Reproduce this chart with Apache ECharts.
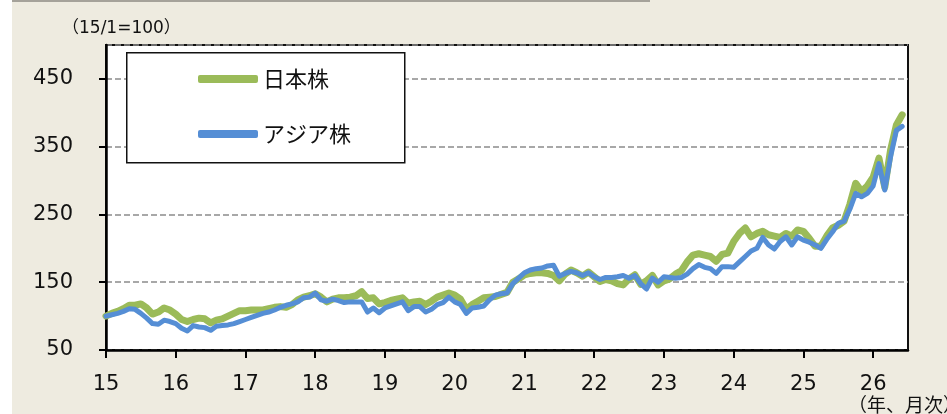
<!DOCTYPE html>
<html lang="ja">
<head>
    <meta charset="UTF-8">
    <title>日本株とアジア株</title>
    <style>
        * {
            margin: 0;
        }

        body {
            background: #fff;
        }

        #main {
            width: 947px;
            height: 414px;
        }
    </style>
    <script src="https://cdn.jsdelivr.net/npm/echarts@6/dist/echarts.min.js"></script>
</head>
<body>
<div id="main"></div>
<script>
    // 月次の並び 15/1 〜 26/7（最後の月は目盛の端だけ）
    var months = [];
    for (var y = 15; y <= 26; y++) {
        for (var m = 1; m <= 12; m++) {
            if (y === 26 && m > 7) break;
            months.push(y + '/' + m);
        }
    }

    // 15/1=100
    var japan = [
        100, 104, 107, 111, 116, 116, 118, 112, 103, 106, 112, 109,
        103, 95, 92, 95, 97, 96, 90, 94, 96, 100, 104, 108,
        108, 109, 109, 109, 111, 113, 114, 113, 117, 124, 128, 130,
        133, 128, 121, 125, 127, 127, 128, 130, 136, 126, 127, 118,
        120, 123, 125, 127, 119, 121, 122, 117, 122, 128, 131, 134,
        131, 125, 110, 117, 122, 127, 128, 129, 132, 135, 150, 155,
        161, 163, 164, 164, 163, 160, 152, 162, 168, 164, 159, 165,
        158, 151, 154, 152, 148, 146, 155, 161, 147, 152, 160, 146,
        152, 155, 162, 167, 180, 190, 192, 190, 188, 181, 191, 193,
        210, 222, 230, 217, 222, 225, 220, 218, 216, 222, 218, 227,
        225, 215, 203, 203, 218, 230, 234, 240, 265, 296, 284, 292,
        305, 333, 290, 345, 382, 397
    ];
    var asia = [
        100, 102, 104, 107, 111, 110, 104, 97, 89, 88, 94, 92,
        89, 82, 78, 86, 84, 83, 79, 85, 86, 87, 89, 92,
        95, 98, 101, 104, 106, 109, 113, 116, 118, 121, 127, 128,
        134, 124, 122, 125, 123, 120, 121, 121, 121, 106, 112, 105,
        112, 115, 118, 121, 108, 114, 114, 106, 110, 117, 120, 128,
        121, 117, 104, 112, 113, 115, 124, 131, 133, 134, 148, 156,
        164, 168, 170, 171, 174, 175, 159, 163, 166, 164, 160, 164,
        158, 154, 157, 157, 158, 160, 156, 160, 148, 140, 156, 150,
        158, 157, 156, 157, 162, 170, 176, 172, 170, 163, 173, 173,
        172, 180, 188, 196, 200, 216, 205, 199, 210, 217, 205, 217,
        212, 209, 205, 200, 213, 224, 237, 240, 258, 281, 276, 281,
        292, 325, 286, 335, 374, 380
    ];
    var yTicks = [50, 150, 250, 350, 450];

    var labelFont = 'DejaVu Sans, Noto Sans CJK JP, sans-serif';
    var cjkFont = 'Noto Sans CJK JP, DejaVu Sans, sans-serif';

    var myChart = echarts.init(document.getElementById('main'));

    option = {
        backgroundColor: '#eeebe0',
        animation: false,
        grid: {
            left: 106,
            right: 39,
            top: 45,
            bottom: 64,
            show: true,
            backgroundColor: '#fff',
            borderColor: '#111',
            borderWidth: 2
        },
        legend: {
            orient: 'vertical',
            left: 193,
            top: 63,
            itemWidth: 60,
            itemHeight: 8,
            itemGap: 33,
            icon: 'roundRect',
            textStyle: {
                fontFamily: cjkFont,
                fontSize: 22,
                color: '#111'
            },
            data: ['日本株', 'アジア株']
        },
        graphic: [
            { // 左端の白い帯
                type: 'rect',
                left: 0,
                top: 0,
                shape: {width: 12, height: 414},
                style: {fill: '#fff'}
            },
            {
                type: 'rect',
                left: 12,
                top: 0,
                shape: {width: 638, height: 2},
                style: {fill: '#a5a29a'}
            },
            { // 凡例の枠
                type: 'rect',
                left: 126,
                top: 52,
                z: 3,
                shape: {width: 278, height: 110},
                style: {fill: '#fff', stroke: '#111', lineWidth: 1.5}
            },
            {
                type: 'text',
                left: 62,
                top: 20,
                style: {
                    text: '（15/1=100）',
                    font: '17px ' + labelFont,
                    fill: '#111'
                }
            },
            {
                type: 'text',
                left: 848,
                top: 395,
                style: {
                    text: '（年、月次）',
                    font: '19px ' + cjkFont,
                    fill: '#111'
                }
            }
        ],
        xAxis: {
            type: 'category',
            data: months,
            boundaryGap: false,
            axisLine: {
                lineStyle: {color: '#000', width: 2.5}
            },
            axisTick: {
                interval: 11,
                length: 8,
                lineStyle: {color: '#000', width: 2}
            },
            axisLabel: {
                interval: 11,
                margin: 24,
                fontFamily: labelFont,
                fontSize: 21,
                color: '#111',
                formatter: function (v) {
                    return v.split('/')[0];
                }
            },
            splitLine: {show: false}
        },
        yAxis: {
            type: 'value',
            min: yTicks[0],
            max: 500,
            interval: 100,
            axisLine: {
                show: true,
                lineStyle: {color: '#000', width: 2.5}
            },
            axisTick: {
                show: true,
                length: 7,
                lineStyle: {color: '#000', width: 2}
            },
            axisLabel: {
                margin: 33,
                showMaxLabel: false,
                fontFamily: labelFont,
                fontSize: 21,
                color: '#111'
            },
            splitLine: {
                lineStyle: {color: '#8c8c8c', width: 1.5, type: [6, 3]}
            }
        },
        series: [
            {
                name: '日本株',
                type: 'line',
                data: japan,
                showSymbol: false,
                symbol: 'none',
                color: '#9bbb59',
                lineStyle: {width: 7, color: '#9bbb59', cap: 'round', join: 'round'}
            },
            {
                name: 'アジア株',
                type: 'line',
                data: asia,
                showSymbol: false,
                symbol: 'none',
                color: '#558ed5',
                lineStyle: {width: 5, color: '#558ed5', cap: 'round', join: 'round'}
            }
        ]
    };

    myChart.setOption(option);
</script>
</body>
</html>
